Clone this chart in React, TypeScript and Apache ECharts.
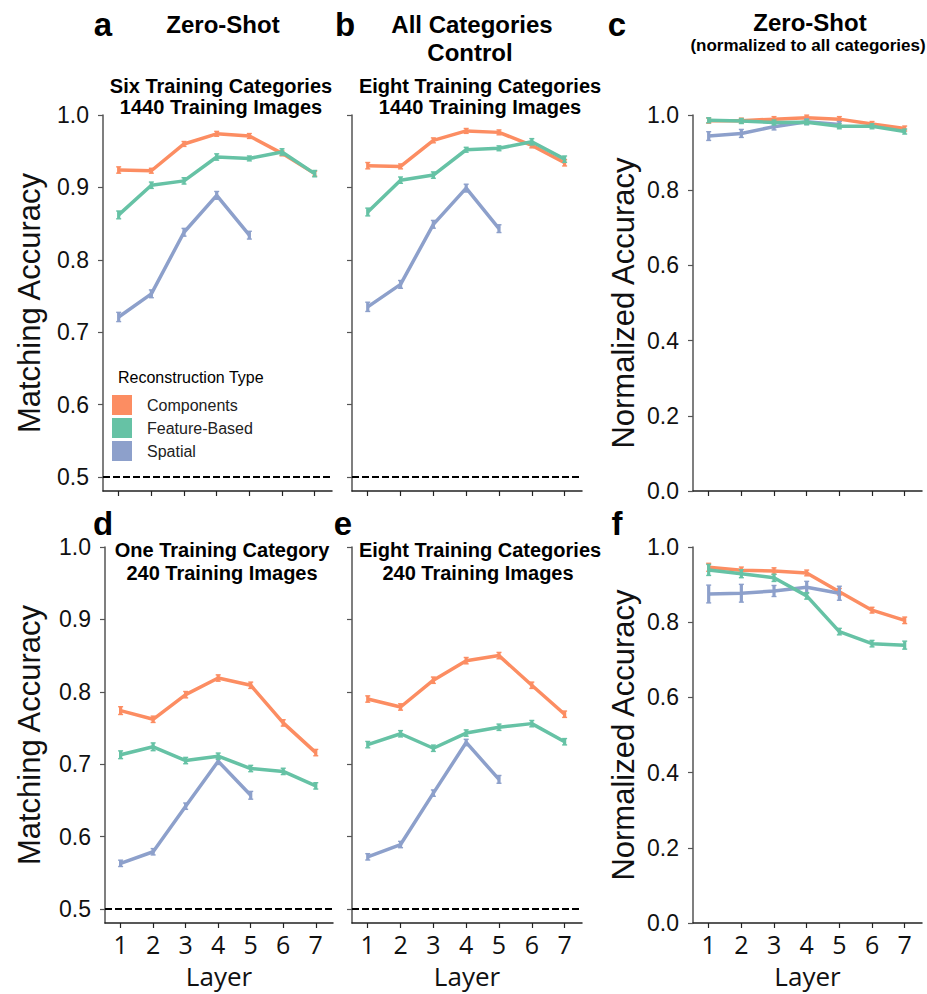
import React, { useEffect, useRef } from "react";
import * as echarts from "echarts";

// ---------- data ----------
const layers = [1, 2, 3, 4, 5, 6, 7];
const spatialLayers = [1, 2, 3, 4, 5];
const seriesNames = ["Components", "Feature-Based", "Spatial"];
const seriesColors = ["#fc8d62", "#66c2a5", "#8da0cb"];
const accTicks = [0.5, 0.6, 0.7, 0.8, 0.9, 1.0];
const normTicks = [0, 0.2, 0.4, 0.6, 0.8, 1.0];
const chanceLevel = 0.5;

// a: zero-shot, six training categories, 1440 images
const aComp = [0.924, 0.923, 0.96, 0.974, 0.971, 0.947, 0.919];
const aFeat = [0.862, 0.903, 0.909, 0.942, 0.94, 0.949, 0.919];
const aSpat = [0.721, 0.753, 0.838, 0.889, 0.834];
const aCompErr = [0.003, 0.002, 0.002, 0.002, 0.002, 0.002, 0.002];
const aFeatErr = [0.004, 0.003, 0.003, 0.003, 0.002, 0.003, 0.003];
const aSpatErr = [0.005, 0.004, 0.004, 0.004, 0.004];
// b: all categories control, eight categories, 1440 images
const bComp = [0.93, 0.929, 0.965, 0.978, 0.976, 0.958, 0.934];
const bFeat = [0.866, 0.91, 0.917, 0.952, 0.954, 0.963, 0.939];
const bSpat = [0.735, 0.766, 0.849, 0.899, 0.843];
const bCompErr = [0.003, 0.002, 0.002, 0.002, 0.002, 0.002, 0.003];
const bFeatErr = [0.004, 0.003, 0.003, 0.002, 0.002, 0.003, 0.003];
const bSpatErr = [0.005, 0.004, 0.004, 0.004, 0.004];
// c: zero-shot normalized
const cComp = [0.985, 0.985, 0.989, 0.993, 0.989, 0.976, 0.964];
const cFeat = [0.986, 0.984, 0.98, 0.981, 0.97, 0.97, 0.956];
const cSpat = [0.944, 0.951, 0.969, 0.982, 0.975];
const cCompErr = [0.004, 0.004, 0.004, 0.004, 0.004, 0.004, 0.004];
const cFeatErr = [0.004, 0.004, 0.004, 0.004, 0.004, 0.004, 0.004];
const cSpatErr = [0.009, 0.008, 0.006, 0.005, 0.005];
// d: one training category, 240 images
const dComp = [0.774, 0.762, 0.796, 0.819, 0.809, 0.757, 0.716];
const dFeat = [0.713, 0.724, 0.705, 0.711, 0.694, 0.69, 0.67];
const dSpat = [0.563, 0.579, 0.642, 0.704, 0.657];
const dCompErr = [0.004, 0.003, 0.003, 0.003, 0.003, 0.003, 0.003];
const dFeatErr = [0.004, 0.004, 0.003, 0.003, 0.003, 0.003, 0.003];
const dSpatErr = [0.003, 0.003, 0.003, 0.003, 0.004];
// e: eight training categories, 240 images
const eComp = [0.79, 0.779, 0.816, 0.843, 0.85, 0.809, 0.769];
const eFeat = [0.727, 0.742, 0.722, 0.743, 0.751, 0.756, 0.731];
const eSpat = [0.572, 0.589, 0.66, 0.73, 0.679];
const eCompErr = [0.003, 0.003, 0.003, 0.003, 0.003, 0.003, 0.003];
const eFeatErr = [0.003, 0.003, 0.003, 0.003, 0.003, 0.003, 0.003];
const eSpatErr = [0.003, 0.003, 0.003, 0.003, 0.004];
// f: normalized, 240 images
const fComp = [0.946, 0.938, 0.936, 0.931, 0.881, 0.832, 0.805];
const fFeat = [0.939, 0.929, 0.918, 0.87, 0.775, 0.743, 0.739];
const fSpat = [0.875, 0.877, 0.883, 0.893, 0.877];
const fCompErr = [0.008, 0.006, 0.006, 0.005, 0.006, 0.005, 0.006];
const fFeatErr = [0.012, 0.008, 0.007, 0.006, 0.006, 0.006, 0.008];
const fSpatErr = [0.021, 0.021, 0.012, 0.013, 0.016];

// ---------- layout ----------
const panels = [
  { comp: aComp, feat: aFeat, spat: aSpat, ce: aCompErr, fe: aFeatErr, se: aSpatErr, norm: false, yLabels: true, bottom: false, grid: { left: 103, top: 115, width: 229, height: 376 }, yName: "Matching Accuracy", nameGap: 58 },
  { comp: bComp, feat: bFeat, spat: bSpat, ce: bCompErr, fe: bFeatErr, se: bSpatErr, norm: false, yLabels: false, bottom: false, grid: { left: 352, top: 115, width: 230, height: 376 }, yName: "", nameGap: 0 },
  { comp: cComp, feat: cFeat, spat: cSpat, ce: cCompErr, fe: cFeatErr, se: cSpatErr, norm: true, yLabels: true, bottom: false, grid: { left: 693, top: 115, width: 229, height: 376 }, yName: "Normalized Accuracy", nameGap: 54 },
  { comp: dComp, feat: dFeat, spat: dSpat, ce: dCompErr, fe: dFeatErr, se: dSpatErr, norm: false, yLabels: true, bottom: true, grid: { left: 105, top: 547, width: 228, height: 376 }, yName: "Matching Accuracy", nameGap: 60 },
  { comp: eComp, feat: eFeat, spat: eSpat, ce: eCompErr, fe: eFeatErr, se: eSpatErr, norm: false, yLabels: false, bottom: true, grid: { left: 352, top: 547, width: 230, height: 376 }, yName: "", nameGap: 0 },
  { comp: fComp, feat: fFeat, spat: fSpat, ce: fCompErr, fe: fFeatErr, se: fSpatErr, norm: true, yLabels: true, bottom: true, grid: { left: 693, top: 547, width: 229, height: 376 }, yName: "Normalized Accuracy", nameGap: 54 },
];

const SANS = "Liberation Sans, Arial, sans-serif";
const XFONT = "Open Sans, sans-serif";

function buildOption() {
  const grids: any[] = [];
  const xAxes: any[] = [];
  const yAxes: any[] = [];
  const series: any[] = [];

  panels.forEach((p, i) => {
    grids.push({ ...p.grid, containLabel: false });
    const axisLineX = { show: true, onZero: false, lineStyle: { color: "#222", width: 1.5 } };
    const axisLineY = { show: true, onZero: false, lineStyle: { color: "#555", width: 1.5 } };
    xAxes.push({
      type: "value",
      gridIndex: i,
      min: 0.52,
      max: 7.53,
      axisLine: axisLineX,
      axisTick: { show: true, customValues: layers, length: 5, lineStyle: { color: "#222", width: 1.2 } },
      axisLabel: {
        show: p.bottom,
        customValues: layers,
        fontSize: 25,
        fontFamily: XFONT,
        color: "#111",
        margin: 8,
      },
      splitLine: { show: false },
      name: p.bottom ? "Layer" : "",
      nameLocation: "middle",
      nameGap: 40,
      nameTextStyle: { fontSize: 26, fontFamily: XFONT, color: "#111" },
    });
    const ticks = p.norm ? normTicks : accTicks;
    yAxes.push({
      type: "value",
      gridIndex: i,
      min: p.norm ? 0 : 0.4806,
      max: 1.0,
      axisLine: axisLineY,
      axisTick: { show: true, customValues: ticks, length: 5, lineStyle: { color: "#555", width: 1.2 } },
      axisLabel: {
        show: p.yLabels,
        customValues: ticks,
        formatter: (v: number) => v.toFixed(1),
        fontSize: 23,
        fontFamily: SANS,
        color: "#111",
        margin: 14,
      },
      splitLine: { show: false },
      name: p.yName,
      nameLocation: "middle",
      nameRotate: 90,
      nameGap: p.nameGap,
      nameTextStyle: { fontSize: 31, fontFamily: SANS, color: "#111" },
    });

    const lines = [
      { name: seriesNames[0], color: seriesColors[0], vals: p.comp, errs: p.ce, xs: layers },
      { name: seriesNames[2], color: seriesColors[2], vals: p.spat, errs: p.se, xs: spatialLayers },
      { name: seriesNames[1], color: seriesColors[1], vals: p.feat, errs: p.fe, xs: layers },
    ];
    lines.forEach((l, k) => {
      const s: any = {
        type: "line",
        name: l.name,
        xAxisIndex: i,
        yAxisIndex: i,
        data: l.xs.map((x, j) => [x, l.vals[j]]),
        showSymbol: false,
        symbol: "none",
        lineStyle: { color: l.color, width: 3.5 },
        itemStyle: { color: l.color },
        z: 3 + k,
        silent: true,
      };
      if (k === 0 && !p.norm) {
        s.markLine = {
          silent: true,
          symbol: ["none", "none"],
          label: { show: false },
          lineStyle: { color: "#000", width: 2, type: [7, 3] },
          data: [{ yAxis: chanceLevel }],
          z: 2,
        };
      }
      series.push(s);
      series.push({
        type: "custom",
        name: l.name + " error",
        xAxisIndex: i,
        yAxisIndex: i,
        data: l.xs.map((x, j) => [x, l.vals[j] - l.errs[j], l.vals[j] + l.errs[j]]),
        silent: true,
        z: 3 + k,
        renderItem: (params: any, api: any) => {
          const x = api.value(0);
          const lo = api.coord([x, api.value(1)]);
          const hi = api.coord([x, api.value(2)]);
          const st = { stroke: l.color, lineWidth: 3.2 };
          const cap = { stroke: l.color, lineWidth: 1.4 };
          return {
            type: "group",
            children: [
              { type: "line", shape: { x1: lo[0], y1: lo[1] + 1, x2: hi[0], y2: hi[1] - 1 }, style: st },
              { type: "line", shape: { x1: lo[0] - 2.5, y1: lo[1] + 1, x2: lo[0] + 2.5, y2: lo[1] + 1 }, style: cap },
              { type: "line", shape: { x1: hi[0] - 2.5, y1: hi[1] - 1, x2: hi[0] + 2.5, y2: hi[1] - 1 }, style: cap },
            ],
          };
        },
      });
    });
  });

  const txt = (text: string, x: number, y: number, size: number, bold = true, align = "center") => ({
    type: "text",
    x,
    y,
    silent: true,
    style: {
      text,
      fill: "#000",
      font: `${bold ? "bold " : ""}${size}px ${SANS}`,
      textAlign: align,
      textVerticalAlign: "middle",
    },
  });

  const graphic = [
    txt("a", 103, 24, 33),
    txt("b", 345, 24, 33),
    txt("c", 617, 24, 33),
    txt("d", 103, 523, 33),
    txt("e", 343, 523, 33),
    txt("f", 617, 523, 33),
    txt("Zero-Shot", 223, 24, 24),
    txt("All Categories", 472, 24, 24),
    txt("Control", 470, 52, 24),
    txt("Zero-Shot", 810, 22, 24),
    txt("(normalized to all categories)", 808, 45, 17),
    txt("Six Training Categories", 221, 86, 20),
    txt("1440 Training Images", 221, 107, 20),
    txt("Eight Training Categories", 480, 86, 20),
    txt("1440 Training Images", 480, 107, 20),
    txt("One Training Category", 222, 550, 20),
    txt("240 Training Images", 222, 573, 20),
    txt("Eight Training Categories", 480, 550, 20),
    txt("240 Training Images", 478, 573, 20),
    txt("Reconstruction Type", 118, 377, 16, false, "left"),
  ];

  return {
    animation: false,
    backgroundColor: "#fff",
    grid: grids,
    xAxis: xAxes,
    yAxis: yAxes,
    series,
    legend: {
      data: seriesNames,
      orient: "vertical",
      left: 107,
      top: 390,
      itemWidth: 40,
      itemHeight: 20,
      itemGap: 3,
      icon: "path://M0,0H20V20H0Z",
      selectedMode: false,
      textStyle: { fontSize: 16, fontFamily: SANS, color: "#222" },
    },
    graphic,
  };
}

export default function App() {
  const ref = useRef<HTMLDivElement>(null);
  useEffect(() => {
    if (!ref.current) return;
    const chart = echarts.init(ref.current, undefined, { renderer: "svg" });
    chart.setOption(buildOption() as any);
    return () => chart.dispose();
  }, []);
  return (
    <div
      ref={ref}
      style={{ position: "absolute", left: 0, top: 0, width: 927, height: 994, background: "#fff" }}
    />
  );
}
